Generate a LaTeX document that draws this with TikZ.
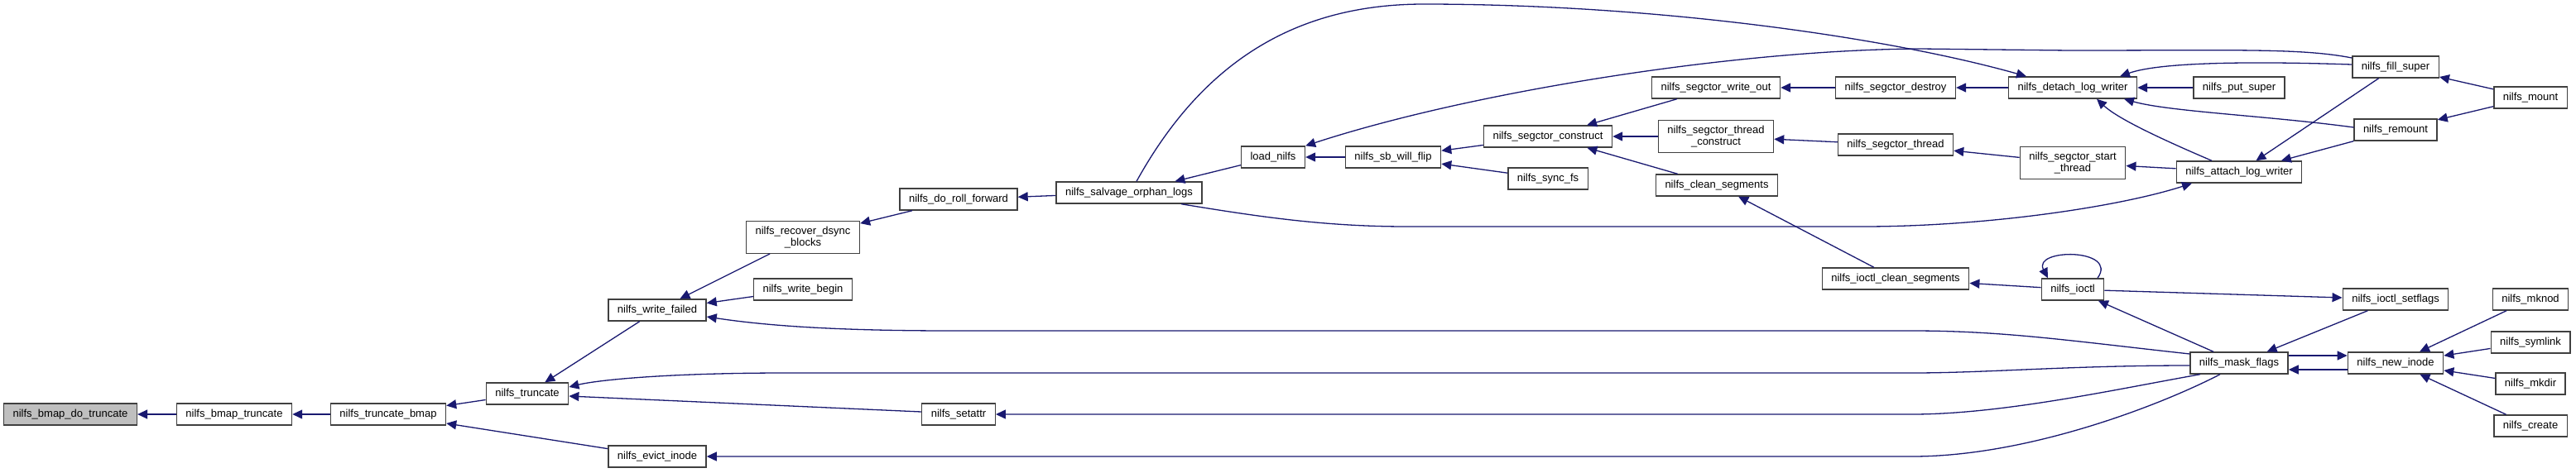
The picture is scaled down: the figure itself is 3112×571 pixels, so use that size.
\documentclass[tikz,border=0pt]{standalone}
\usepackage{fontspec}
\setmainfont{Liberation Sans}
\usetikzlibrary{arrows.meta}
\definecolor{callblue}{HTML}{191970}
\definecolor{rim}{HTML}{404040}
\definecolor{hilite}{HTML}{BFBFBF}

\begin{document}
\begin{tikzpicture}[x=1pt, y=-1pt,
    line width=1.3pt, >={Triangle[length=12pt,width=11pt]},
    fn/.style={draw=rim, fill=white, line width=1.4pt, inner xsep=11pt, inner ysep=6pt,
               minimum height=26pt, align=center, font=\fontsize{13}{14.5}\selectfont},
    root/.style={fn, fill=hilite},
    call/.style={->, draw=callblue, line width=1.3pt}]
  % fixed canvas, 1pt = 1px, y grows downwards
  \path[use as bounding box] (0,0) rectangle (3112,571);

  % ================= functions =================
  \node[root] (bmapdo)    at (85,501)   {nilfs\_bmap\_do\_truncate};
  \node[fn]   (bmaptr)    at (283,501)  {nilfs\_bmap\_truncate};
  \node[fn]   (trbmap)    at (469,501)  {nilfs\_truncate\_bmap};
  \node[fn]   (trunc)     at (637,476)  {nilfs\_truncate};
  \node[fn]   (wfailed)   at (794,375)  {nilfs\_write\_failed};
  \node[fn]   (evict)     at (794,552)  {nilfs\_evict\_inode};
  \node[fn]   (dsync)     at (970,287)  {nilfs\_recover\_dsync\\\_blocks};
  \node[fn]   (wbegin)    at (970,350)  {nilfs\_write\_begin};
  \node[fn]   (setattr)   at (1158,501) {nilfs\_setattr};
  \node[fn]   (rollfw)    at (1158,241) {nilfs\_do\_roll\_forward};
  \node[fn]   (salvage)   at (1364,233) {nilfs\_salvage\_orphan\_logs};
  \node[fn]   (load)      at (1538,190) {load\_nilfs};
  \node[fn]   (sbflip)    at (1683,190) {nilfs\_sb\_will\_flip};
  \node[fn]   (construct) at (1870,165) {nilfs\_segctor\_construct};
  \node[fn]   (syncfs)    at (1870,216) {nilfs\_sync\_fs};
  \node[fn]   (writeout)  at (2073,106) {nilfs\_segctor\_write\_out};
  \node[fn]   (thrcons)   at (2073,165) {nilfs\_segctor\_thread\\\_construct};
  \node[fn]   (cleanseg)  at (2074,224) {nilfs\_clean\_segments};
  \node[fn]   (destroy)   at (2290,106) {nilfs\_segctor\_destroy};
  \node[fn]   (thread)    at (2290,175) {nilfs\_segctor\_thread};
  \node[fn]   (ioclean)   at (2290,337) {nilfs\_ioctl\_clean\_segments};
  \node[fn]   (detach)    at (2504,106) {nilfs\_detach\_log\_writer};
  \node[fn]   (start)     at (2504,197) {nilfs\_segctor\_start\\\_thread};
  \node[fn]   (ioctl)     at (2504,350) {nilfs\_ioctl};
  \node[fn]   (putsuper)  at (2705,106) {nilfs\_put\_super};
  \node[fn]   (attach)    at (2705,208) {nilfs\_attach\_log\_writer};
  \node[fn]   (mask)      at (2705,439) {nilfs\_mask\_flags};
  \node[fn]   (fill)      at (2894,81)  {nilfs\_fill\_super};
  \node[fn]   (remount)   at (2894,157) {nilfs\_remount};
  \node[fn]   (setflags)  at (2894,362) {nilfs\_ioctl\_setflags};
  \node[fn]   (newinode)  at (2894,439) {nilfs\_new\_inode};
  \node[fn]   (mount)     at (3057,118) {nilfs\_mount};
  \foreach \name/\y in {mknod/362, symlink/414, mkdir/464, create/515}
    \node[fn] (\name) at (3057,\y) {nilfs\_\name};

  % ================= direct calls =================
  \draw[call] (bmaptr) -- (bmapdo);
  \draw[call] (trbmap) -- (bmaptr);
  \draw[call] (trunc) -- (trbmap);
  \draw[call] (evict) -- (trbmap);
  \draw[call] (wfailed) -- (trunc);
  \draw[call] ([yshift=3pt]setattr.west) -- ([yshift=-3pt]trunc.east);
  \draw[call] (dsync) -- (wfailed);
  \draw[call] (wbegin) -- (wfailed);
  \draw[call] (rollfw) -- (dsync);
  \draw[call] (salvage) -- (rollfw);
  \draw[call] (load) -- (salvage);
  \draw[call] (sbflip) -- (load);
  \draw[call] (construct) -- (sbflip);
  \draw[call] (syncfs) -- (sbflip);
  \draw[call] (writeout) -- (construct);
  \draw[call] (thrcons) -- (construct);
  \draw[call] (cleanseg) -- (construct);
  \draw[call] (destroy) -- (writeout);
  \draw[call] (thread) -- (thrcons);
  \draw[call] (ioclean) -- (cleanseg);
  \draw[call] (detach) -- (destroy);
  \draw[call] (start) -- (thread);
  \draw[call] (attach) -- (start);
  \draw[call] (ioctl) -- (ioclean);
  \draw[call] (putsuper) -- (detach);
  \draw[call] (fill) -- (attach);
  \draw[call] (remount) -- (attach);
  \draw[call] (mount) -- (fill);
  \draw[call] (mount) -- (remount);
  \draw[call] (mask) -- (ioctl);
  \draw[call] (ioctl) -- (setflags);
  \draw[call] (setflags) -- (mask);
  \draw[call] ([yshift=9pt]mask.east) -- ([yshift=9pt]newinode.west);
  \draw[call] ([yshift=-8pt]newinode.west) -- ([yshift=-8pt]mask.east);
  \foreach \name in {mknod, symlink, mkdir, create}
    \draw[call] (\name) -- (newinode);

  % ================= curved calls =================
  \draw[call] ([xshift=30pt]ioctl.north) .. controls (2560,300) and (2455,300) .. ([xshift=-30pt]ioctl.north);
  \draw[call] ([yshift=3pt]fill.west) .. controls (2720,74) and (2610,75) .. ([xshift=57pt]detach.north);
  \draw[call] ([yshift=3pt]remount.west) .. controls (2740,140) and (2620,135) .. ([xshift=62pt]detach.south);
  \draw[call] ([xshift=-33pt]attach.north) .. controls (2620,172) and (2560,145) .. ([xshift=29pt]detach.south);
  \draw[call] ([yshift=11pt]fill.west) .. controls (2780,58) and (2700,61) .. (2500,61) -- (2320,59)
    .. controls (2100,60) and (1780,110) .. (load.north east);
  \draw[call] ([xshift=9pt]salvage.north) .. controls (1450,80) and (1560,5) .. (1720,5)
    .. controls (2000,5) and (2280,45) .. ([xshift=-56pt]detach.north);
  \draw[call] ([xshift=63pt]salvage.south) .. controls (1520,262) and (1600,274) .. (1700,274) -- (2250,274)
    .. controls (2400,274) and (2560,250) .. ([xshift=-57pt]attach.south);

  % ================= nilfs_mask_flags, long calls to the left =================
  \draw[call] ([yshift=11pt]mask.west) .. controls (2500,412) and (2420,400) .. (2310,400) -- (1150,400)
    .. controls (1000,400) and (920,393) .. ([yshift=-8pt]wfailed.east);
  \draw[call] ([yshift=-3pt]mask.west) .. controls (2500,442) and (2400,451) .. (2310,451) -- (950,451)
    .. controls (800,451) and (720,460) .. ([yshift=8pt]trunc.east);
  \draw[call] ([xshift=-47pt]mask.south) .. controls (2560,470) and (2420,501) .. (2310,501) -- (setattr.east);
  \draw[call] ([xshift=-23pt]mask.south) .. controls (2610,490) and (2450,552) .. (2310,552) -- (evict.east);
\end{tikzpicture}
\end{document}
